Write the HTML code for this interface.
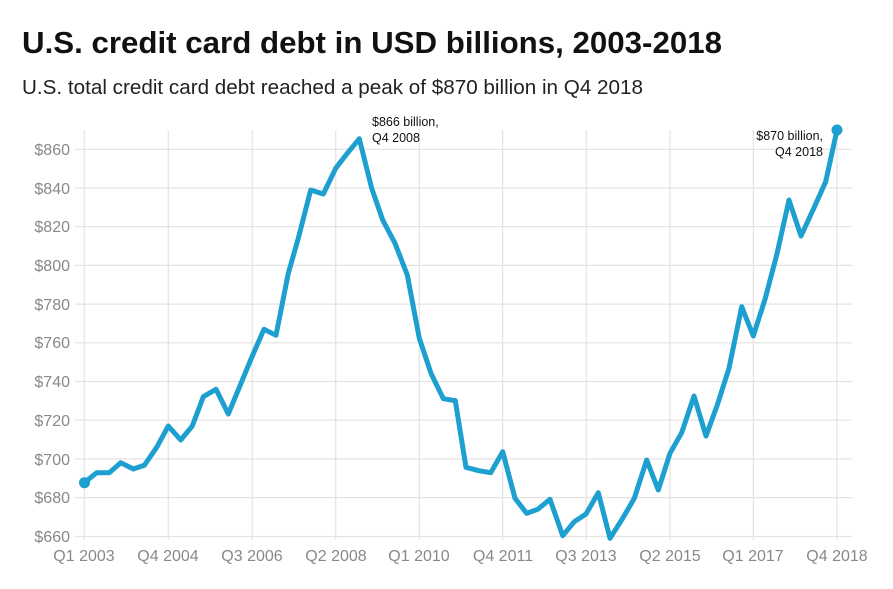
<!DOCTYPE html>
<html><head><meta charset="utf-8"><style>
html,body{margin:0;padding:0;background:#fff;width:893px;height:589px;overflow:hidden}
</style></head><body>
<svg width="893" height="589" xmlns="http://www.w3.org/2000/svg" font-family="Liberation Sans, sans-serif">
<text x="22" y="53" font-size="31" font-weight="bold" fill="#111" textLength="700" lengthAdjust="spacingAndGlyphs">U.S. credit card debt in USD billions, 2003-2018</text>
<text x="22" y="94" font-size="20" fill="#222" textLength="621" lengthAdjust="spacingAndGlyphs">U.S. total credit card debt reached a peak of $870 billion in Q4 2018</text>
<g stroke="#e3e3e3" stroke-width="1.2">
<line x1="75" x2="852" y1="149.3" y2="149.3"/><line x1="75" x2="852" y1="188" y2="188"/><line x1="75" x2="852" y1="226.7" y2="226.7"/><line x1="75" x2="852" y1="265.4" y2="265.4"/><line x1="75" x2="852" y1="304.1" y2="304.1"/><line x1="75" x2="852" y1="342.8" y2="342.8"/><line x1="75" x2="852" y1="381.5" y2="381.5"/><line x1="75" x2="852" y1="420.2" y2="420.2"/><line x1="75" x2="852" y1="458.9" y2="458.9"/><line x1="75" x2="852" y1="497.6" y2="497.6"/><line x1="75" x2="852" y1="536.5" y2="536.5"/>
<line x1="84.3" x2="84.3" y1="130" y2="540"/><line x1="168.3" x2="168.3" y1="130" y2="540"/><line x1="252.3" x2="252.3" y1="130" y2="540"/><line x1="335.7" x2="335.7" y1="130" y2="540"/><line x1="419.3" x2="419.3" y1="130" y2="540"/><line x1="502.7" x2="502.7" y1="130" y2="540"/><line x1="586.3" x2="586.3" y1="130" y2="540"/><line x1="670" x2="670" y1="130" y2="540"/><line x1="753.3" x2="753.3" y1="130" y2="540"/><line x1="837" x2="837" y1="130" y2="540"/>
</g>
<g font-size="16" fill="#888" text-anchor="end">
<text x="70" y="155">$860</text><text x="70" y="194">$840</text><text x="70" y="232">$820</text><text x="70" y="271">$800</text><text x="70" y="310">$780</text><text x="70" y="348">$760</text><text x="70" y="387">$740</text><text x="70" y="426">$720</text><text x="70" y="465">$700</text><text x="70" y="503">$680</text><text x="70" y="542">$660</text>
</g>
<g font-size="16" fill="#888" text-anchor="middle">
<text x="84" y="561">Q1 2003</text><text x="168" y="561">Q4 2004</text><text x="252" y="561">Q3 2006</text><text x="336" y="561">Q2 2008</text><text x="419" y="561">Q1 2010</text><text x="503" y="561">Q4 2011</text><text x="586" y="561">Q3 2013</text><text x="670" y="561">Q2 2015</text><text x="753" y="561">Q1 2017</text><text x="837" y="561">Q4 2018</text>
</g>
<polyline fill="none" stroke="#1d9fcf" stroke-width="5" stroke-linejoin="round" points="84.3,482.7 96.7,472.7 109.3,472.7 120.7,462.7 133.3,469 144.3,465.3 156.7,447.3 168.3,426 180.7,440 192.3,426 203.3,396.7 216,389.3 228.3,414 240,385.7 252.3,356 264,329.3 276,335.3 288.3,273.3 298.3,238.3 310.7,190 323.3,194 335.7,168.3 347.3,153.3 359.3,138.7 371.7,188.3 382.7,220 395,243.3 407.3,275 419.3,338.3 431,373.3 443.3,398.7 455.3,400.7 466,467.3 478.7,470.7 490.7,472.7 502.7,451.7 515,498.3 526.7,513.3 537.7,509.3 550,499.3 562.7,535.7 574.3,521.7 586,514 598.3,492.7 610,538.3 622.7,518.3 634.3,498.3 646.7,460 658.3,490 670,453.3 681.7,432.7 694,396 706,436 717.3,405 729,368.3 741.7,306.7 753.3,336 765,299.3 776.7,255 789,200 801,236 813.3,209.3 825.7,181.7 837,130"/>
<circle cx="84.5" cy="482.7" r="5.5" fill="#1d9fcf"/>
<circle cx="837" cy="130" r="5.5" fill="#1d9fcf"/>
<g font-size="12.5" fill="#111">
<text x="372" y="126">$866 billion,</text><text x="372" y="142">Q4 2008</text>
<text x="823" y="140" text-anchor="end">$870 billion,</text><text x="823" y="156" text-anchor="end">Q4 2018</text>
</g>
</svg>
</body></html>
